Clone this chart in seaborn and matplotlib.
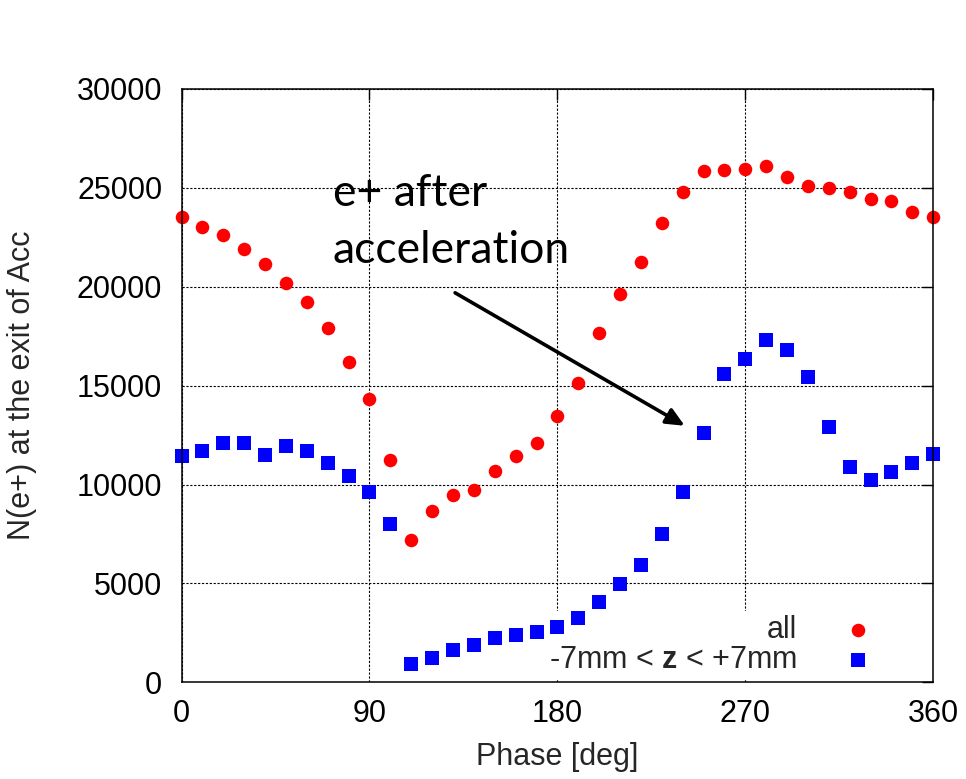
import matplotlib
matplotlib.use("Agg")
import matplotlib.pyplot as plt
import seaborn as sns
import pandas as pd

# N(e+) at the exit of the accelerating section vs RF phase
phase = list(range(0, 361, 10))
n_all = [23500, 23000, 22600, 21900, 21150, 20200, 19250, 17900, 16200, 14300,
         11250, 7200, 8650, 9450, 9700, 10700, 11450, 12100, 13450, 15150,
         17650, 19650, 21250, 23200, 24800, 25850, 25900, 25950, 26100, 25550,
         25100, 25000, 24800, 24450, 24350, 23750, 23500]
n_z7 = [11450, 11700, 12100, 12100, 11500, 11950, 11700, 11100, 10450, 9600,
        8000, 950, 1250, 1650, 1900, 2250, 2400, 2550, 2800, 3250,
        4050, 4950, 5950, 7500, 9600, 12600, 15600, 16350, 17300, 16800,
        15450, 12900, 10900, 10250, 10650, 11100, 11550]
x_ticks = [0, 90, 180, 270, 360]
y_ticks = [0, 5000, 10000, 15000, 20000, 25000, 30000]

sns.set_style("white")
plt.rcParams['font.family'] = ['Liberation Sans', 'DejaVu Sans']
plt.rcParams['mathtext.fontset'] = 'custom'
plt.rcParams['mathtext.bf'] = 'Liberation Sans:bold'
plt.rcParams['mathtext.rm'] = 'Liberation Sans'

df = pd.DataFrame({"phase": phase, "all": n_all, "z7": n_z7})

fig = plt.figure(figsize=(9.66, 7.79), dpi=100)
ax = fig.add_axes([0.188, 0.124, 0.778, 0.762])

# points sit above the legend box (gnuplot only blanks the grid there)
sns.scatterplot(data=df, x="phase", y="all", ax=ax, color="#ff0000", marker="o",
                s=95, linewidth=0, label="all", clip_on=False, zorder=6)
sns.scatterplot(data=df, x="phase", y="z7", ax=ax, color="#0000ff", marker="s",
                s=110, linewidth=0, label=r"-7mm < $\mathbf{z}$ < +7mm",
                clip_on=False, zorder=6)

ax.set_xlim(0, 360)
ax.set_ylim(0, 30000)
ax.set_xticks(x_ticks)
ax.set_yticks(y_ticks)
ax.set_xticklabels([str(t) for t in x_ticks])
ax.set_yticklabels([str(t) for t in y_ticks])
ax.tick_params(direction="in", length=8, width=1, labelsize=22,
               top=True, right=True, colors="black")
ax.tick_params(axis="y", pad=14)
ax.tick_params(axis="x", pad=12)
for sp in ax.spines.values():
    sp.set_color("black")
    sp.set_linewidth(1.1)
    sp.set_zorder(7)
ax.set_axisbelow(True)
ax.grid(True, color="black", linestyle=(0, (2, 1.5)), linewidth=0.8)

ax.set_xlabel("Phase [deg]", fontsize=22, labelpad=9)
ax.set_ylabel("N(e+) at the exit of Acc", fontsize=22)
ax.yaxis.set_label_coords(-0.192, 0.5)

leg = ax.legend(loc="lower right", bbox_to_anchor=(0.927, 0.004), fontsize=22,
                markerfirst=False, frameon=True, framealpha=1, edgecolor="none",
                facecolor="white", fancybox=False, handlelength=1.0,
                handletextpad=1.5, labelspacing=0.0, borderpad=0.15,
                borderaxespad=0)
leg.set_zorder(5)

ax.annotate("", xy=(241, 12970), xytext=(131, 19690),
            arrowprops=dict(arrowstyle="-|>,head_length=1.1,head_width=0.5",
                            color="black", lw=2.6, shrinkA=0, shrinkB=0))
ax.text(72.5, 21200, "e+ after\nacceleration", fontsize=32, family="Lato",
        va="baseline", ha="left", linespacing=1.47, color="black")

fig.savefig("out.png", dpi=100)
